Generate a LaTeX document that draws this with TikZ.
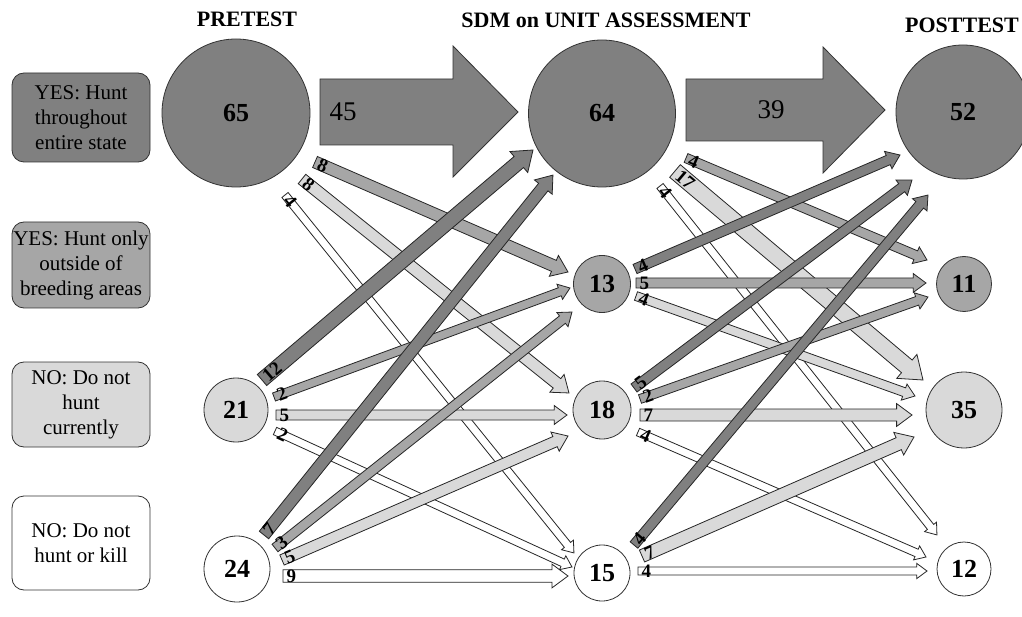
\documentclass[tikz,border=0pt]{standalone}
\usepackage{fontspec}
\setmainfont{Liberation Serif}
\definecolor{cdark}{HTML}{808080}
\definecolor{cmid}{HTML}{A6A6A6}
\definecolor{clight}{HTML}{D9D9D9}
\newdimen\fxa \newdimen\fya \newdimen\fxb \newdimen\fyb
\tikzset{
  outl/.style={draw=black!80,line width=0.8pt},
  flowline/.style={draw=black!85,line width=0.8pt,line join=miter},
  flowlabel/.style={font=\fontsize{19}{19}\selectfont\bfseries,anchor=west,inner sep=0.5pt},
  bigc/.style={circle,outl,inner sep=0pt,font=\fontsize{26}{30}\selectfont\bfseries},
  catbox/.style={rectangle,rounded corners=12pt,outl,minimum width=138pt,align=center,
     font=\fontsize{21}{25}\selectfont,inner sep=0pt},
  hdr/.style={font=\fontsize{22}{26}\selectfont\bfseries,inner sep=0pt}
}
\newcommand\flowarrow[5]{%
  \pgfextractx{\fxa}{\pgfpointanchor{#1}{center}}%
  \pgfextracty{\fya}{\pgfpointanchor{#1}{center}}%
  \pgfextractx{\fxb}{\pgfpointanchor{#2}{center}}%
  \pgfextracty{\fyb}{\pgfpointanchor{#2}{center}}%
  \pgfmathsetmacro\fang{atan2(\fyb-\fya,\fxb-\fxa)}%
  \pgfmathsetmacro\flen{veclen(\fxb-\fxa,\fyb-\fya)}%
  \pgfmathsetmacro\fh{#3/2}%
  \pgfmathsetmacro\fH{1.9*\fh}%
  \pgfmathsetmacro\fb{\flen-1.35*\fH}%
  \begin{scope}[shift={(\the\fxa,\the\fya)},rotate=\fang]
    \filldraw[flowline,fill=#4] (0pt,-\fh pt) -- (\fb pt,-\fh pt) -- (\fb pt,-\fH pt)
      -- (\flen pt,0pt) -- (\fb pt,\fH pt) -- (\fb pt,\fh pt) -- (0pt,\fh pt) -- cycle;
    \node[flowlabel,transform shape] at (3pt,0pt) {#5};
  \end{scope}%
}
\begin{document}
\begin{tikzpicture}[x=1pt,y=-1pt]
\useasboundingbox (0,0) rectangle (1022,617);
\fill[white] (0,0) rectangle (1022,617);

% headers
\node[hdr] (h1) at (247,19) {PRETEST};
\node[hdr] (h2) at (606,20) {SDM on UNIT ASSESSMENT};
\node[hdr] (h3) at (962,25) {POSTTEST};

% category boxes
\node[catbox,fill=cdark,minimum height=89pt] (b1) at (81,117.5) {YES: Hunt\\throughout\\entire state};
\node[catbox,fill=cmid,minimum height=86pt] (b2) at (81,265) {YES: Hunt only\\outside of\\breeding areas};
\node[catbox,fill=clight,minimum height=85pt] (b3) at (81,404.5) {NO: Do not\\hunt\\currently};
\node[catbox,fill=white,minimum height=94pt] (b4) at (81,543) {NO: Do not\\hunt or kill};

% circles
\node[bigc,fill=cdark,minimum size=148pt] (c65) at (236,113) {65};
\node[bigc,fill=cdark,minimum size=147pt] (c64) at (602,113.5) {64};
\node[bigc,fill=cdark,minimum size=134pt] (c52) at (963,112) {52};
\node[bigc,fill=clight,minimum size=64pt] (c21) at (236,410) {21};
\node[bigc,fill=white,minimum size=66pt] (c24) at (237,569) {24};
\node[bigc,fill=cmid,minimum size=57pt] (c13) at (602,284) {13};
\node[bigc,fill=clight,minimum size=58pt] (c18) at (602,410) {18};
\node[bigc,fill=white,minimum size=56pt] (c15) at (602,573) {15};
\node[bigc,fill=cmid,minimum size=55pt] (c11) at (964,284) {11};
\node[bigc,fill=clight,minimum size=76pt] (c35) at (964,410) {35};
\node[bigc,fill=white,minimum size=54pt] (c12) at (964,569) {12};

% big block arrows
\filldraw[outl,fill=cdark] (320,79) -- (453,79) -- (453,46) -- (518,112) -- (453,177) -- (453,145) -- (320,145) -- cycle;
\node[font=\fontsize{27}{30}\selectfont,inner sep=0pt] (l45) at (343,112) {45};
\filldraw[outl,fill=cdark] (686,79) -- (823,79) -- (823,47) -- (885,110) -- (823,173) -- (823,141) -- (686,141) -- cycle;
\node[font=\fontsize{27}{30}\selectfont,inner sep=0pt] (l39) at (771,110) {39};

% arrow end coordinates: pretest -> SDM
\coordinate (a1s) at (315,162);  \coordinate (a1e) at (568,272);
\coordinate (a2s) at (302,179);  \coordinate (a2e) at (569,393);
\coordinate (a3s) at (285,195);  \coordinate (a3e) at (574,553);
\coordinate (a4s) at (262,380);  \coordinate (a4e) at (533,150);
\coordinate (a5s) at (274,397);  \coordinate (a5e) at (570,288);
\coordinate (a6s) at (276,415);  \coordinate (a6e) at (567,415);
\coordinate (a7s) at (275,431);  \coordinate (a7e) at (572,567);
\coordinate (a8s) at (264,535);  \coordinate (a8e) at (553,175);
\coordinate (a9s) at (275,548);  \coordinate (a9e) at (572,312);
\coordinate (a10s) at (282,560); \coordinate (a10e) at (568,436);
\coordinate (a11s) at (283,576); \coordinate (a11e) at (568,576);
% SDM -> posttest
\coordinate (a12s) at (686,158); \coordinate (a12e) at (927,260);
\coordinate (a13s) at (675,171); \coordinate (a13e) at (923,380);
\coordinate (a14s) at (660,186); \coordinate (a14e) at (937,535);
\coordinate (a15s) at (635,269); \coordinate (a15e) at (900,155);
\coordinate (a16s) at (636,283); \coordinate (a16e) at (926,283);
\coordinate (a17s) at (636,296); \coordinate (a17e) at (915,396);
\coordinate (a18s) at (634,388); \coordinate (a18e) at (912,180);
\coordinate (a19s) at (640,399); \coordinate (a19e) at (928,297);
\coordinate (a20s) at (640,415); \coordinate (a20e) at (912,415);
\coordinate (a21s) at (638,432); \coordinate (a21e) at (926,557);
\coordinate (a22s) at (634,545); \coordinate (a22e) at (928,195);
\coordinate (a23s) at (642,556); \coordinate (a23e) at (914,437);
\coordinate (a24s) at (638,571); \coordinate (a24e) at (927,571);

\flowarrow{a3s}{a3e}{8}{white}{4}
\flowarrow{a2s}{a2e}{12}{clight}{8}
\flowarrow{a1s}{a1e}{12}{cmid}{8}
\flowarrow{a7s}{a7e}{8}{white}{2}
\flowarrow{a6s}{a6e}{10}{clight}{5}
\flowarrow{a5s}{a5e}{8.5}{cmid}{2}
\flowarrow{a4s}{a4e}{14.5}{cdark}{12}
\flowarrow{a11s}{a11e}{12.5}{white}{9}
\flowarrow{a10s}{a10e}{11}{clight}{5}
\flowarrow{a9s}{a9e}{9.5}{cmid}{3}
\flowarrow{a8s}{a8e}{12}{cdark}{7}

\flowarrow{a14s}{a14e}{8}{white}{4}
\flowarrow{a13s}{a13e}{16.5}{clight}{17}
\flowarrow{a12s}{a12e}{9.5}{cmid}{4}
\flowarrow{a21s}{a21e}{8}{white}{4}
\flowarrow{a17s}{a17e}{9}{clight}{4}
\flowarrow{a16s}{a16e}{10}{cmid}{5}
\flowarrow{a15s}{a15e}{10}{cdark}{4}
\flowarrow{a24s}{a24e}{8}{white}{4}
\flowarrow{a20s}{a20e}{12}{clight}{7}
\flowarrow{a19s}{a19e}{9}{cmid}{2}
\flowarrow{a23s}{a23e}{13}{clight}{7}
\flowarrow{a18s}{a18e}{10}{cdark}{5}
\flowarrow{a22s}{a22e}{10}{cdark}{4}
\end{tikzpicture}
\end{document}
